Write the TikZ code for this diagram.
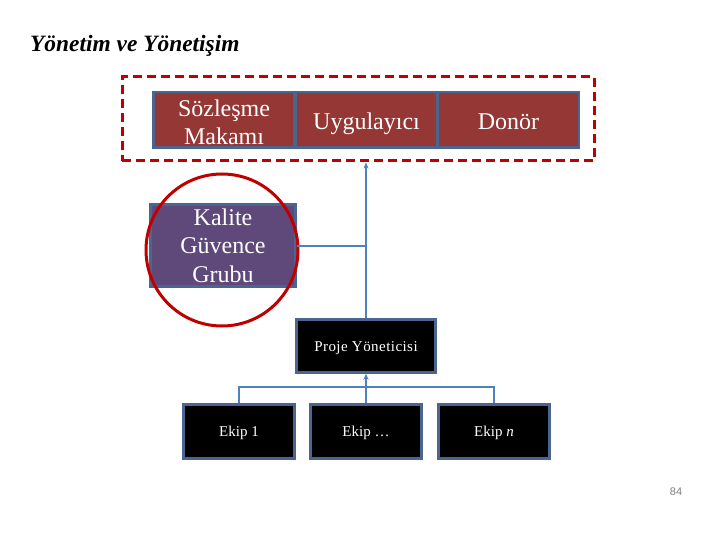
\documentclass[tikz,border=0pt]{standalone}
\usepackage{fontspec}
\setmainfont{Liberation Serif}
\newfontfamily\pagefont{Liberation Sans}
\usetikzlibrary{arrows.meta,positioning,fit}
\definecolor{frame}{HTML}{4A6590}
\definecolor{brick}{HTML}{953735}
\definecolor{plum}{HTML}{5F497A}
\definecolor{alert}{HTML}{C00000}
\definecolor{wire}{HTML}{4F81BD}
\definecolor{folio}{HTML}{808080}
\tikzset{
  base/.style={font=\fontsize{24}{28}\selectfont,align=center,text=white,draw=frame,line width=2.5pt,inner sep=1pt},
  party/.style={base,fill=brick,minimum width=141pt,minimum height=55.5pt},
  oneline/.style={text height=24pt,text depth=4pt},
  quality/.style={base,fill=plum,minimum width=145pt,minimum height=82pt,font=\fontsize{24}{28.5}\selectfont},
  manager/.style={base,fill=black,minimum width=139pt,minimum height=53pt,text height=14pt,text depth=3.3pt,font=\fontsize{15}{17}\selectfont\addfontfeatures{LetterSpace=3}},
  team/.style={base,fill=black,minimum width=111pt,minimum height=54pt,text height=14pt,text depth=3.3pt,font=\fontsize{15}{17}\selectfont},
  board/.style={draw=alert,line width=3pt,dash pattern=on 9pt off 5pt,inner sep=0pt},
  ring/.style={draw=alert,line width=3pt},
  wireline/.style={draw=wire,line width=2pt},
  flow/.style={wireline,-{Stealth[length=6pt,width=5pt]}},
  title/.style={font=\fontsize{23.4}{26}\selectfont\bfseries\itshape,anchor=west,inner sep=0pt}
}
\begin{document}
\begin{tikzpicture}[x=1pt,y=-1pt]
\useasboundingbox (0,0) rectangle (720,540);
\node[title] (head) at (30,46) {Yönetim ve Yönetişim};

% governance parties
\node[party,text height=49pt,text depth=0pt] (contract) at (224,120) {Sözleşme\\Makamı};
\node[party,oneline] (impl) at (366.5,120) {Uygulayıcı};
\node[party,oneline] (donor) at (508.5,120) {Donör};
\coordinate (bnw) at (122,77);
\coordinate (bse) at (594,161);
\node[board,fit=(bnw)(bse)] (govern) {};

% quality group and its ring
\node[quality] (kalite) at (223,245.5) {Kalite\\Güvence\\Grubu};
\draw[ring] (222,250) circle (76);

% project manager and teams
\node[manager] (proje) at (366,346) {Proje Yöneticisi};
\node[team] (ekip1) at (239,431.5) {Ekip 1};
\node[team] (ekipm) at (366,431.5) {Ekip \dots};
\node[team] (ekipn) at (494,431.5) {Ekip \textit{n}};
\coordinate (bus) at (366,387);

\draw[flow] (proje.north) -- (proje.north |- govern.south);
\draw[wireline] (kalite.east) -- (kalite.east -| proje.north);
\draw[wireline] (ekip1.north) |- (bus) -| (ekipn.north);
\draw[flow] (ekipm.north) -- (proje.south);

\node[font=\pagefont\fontsize{11}{12}\selectfont,text=folio] (page) at (676,492) {84};
\end{tikzpicture}
\end{document}
